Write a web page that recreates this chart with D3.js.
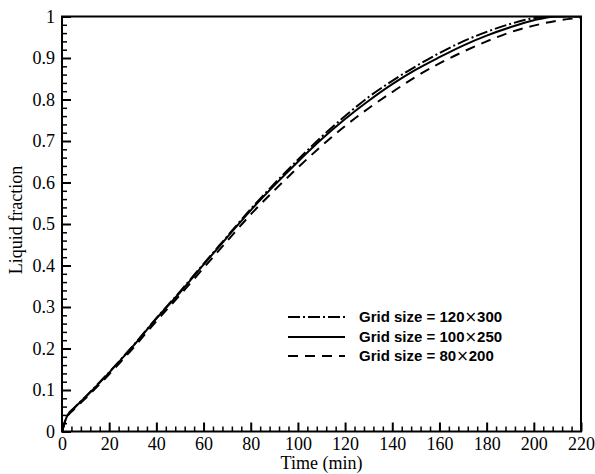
<!DOCTYPE html>
<html>
<head>
<meta charset="utf-8">
<script src="https://cdn.jsdelivr.net/npm/d3@7"></script>
<style>
  html, body { margin: 0; padding: 0; background: #fff; }
  svg { display: block; }
</style>
</head>
<body>
<svg id="chart" width="595" height="474"></svg>
<script>
// Melting time history of the liquid fraction for three mesh resolutions
const timeMin = [0, 2, 5, 10, 20, 30, 40, 50, 60, 70, 80, 90, 100, 110, 120, 130, 140, 150, 160, 170, 180, 190, 200, 210, 220];

const grid120x300 = [0, 0.036, 0.056, 0.084, 0.143, 0.206, 0.273, 0.337, 0.404, 0.470, 0.536, 0.597, 0.655, 0.710, 0.760, 0.806, 0.845, 0.880, 0.912, 0.940, 0.963, 0.982, 0.996, 1.0, 1.0];
const grid100x250 = [0, 0.035, 0.055, 0.083, 0.142, 0.205, 0.272, 0.335, 0.402, 0.468, 0.533, 0.593, 0.650, 0.704, 0.753, 0.797, 0.837, 0.872, 0.902, 0.930, 0.954, 0.974, 0.991, 1.0, 1.0];
const grid80x200  = [0, 0.033, 0.053, 0.080, 0.138, 0.200, 0.266, 0.329, 0.394, 0.459, 0.523, 0.581, 0.636, 0.688, 0.736, 0.779, 0.818, 0.855, 0.887, 0.915, 0.940, 0.962, 0.978, 0.990, 0.997];

// legend text split around the multiplication sign
const seriesNames = ["Grid size = 120", "Grid size = 100", "Grid size = 80"];
const seriesTails = ["300", "250", "200"];
const seriesDash = ["12,3,2,3", null, "10,7"];

const xTicks = [0, 20, 40, 60, 80, 100, 120, 140, 160, 180, 200, 220];
const yTicks = [0, 0.1, 0.2, 0.3, 0.4, 0.5, 0.6, 0.7, 0.8, 0.9, 1];
const yTickLabels = ["0", "0.1", "0.2", "0.3", "0.4", "0.5", "0.6", "0.7", "0.8", "0.9", "1"];

const svg = d3.select("#chart");
const plotLeft = 62, plotRight = 581, plotTop = 16.5, plotBottom = 431.5;

const x = d3.scaleLinear().domain([0, 220]).range([plotLeft, plotRight]);
const y = d3.scaleLinear().domain([0, 1]).range([plotBottom, plotTop]);

const serif = "'Liberation Serif', 'Times New Roman', serif";
const fontSize = 18;

// clip region for curves
svg.append("defs").append("clipPath").attr("id", "plotClip")
  .append("rect").attr("x", plotLeft).attr("y", plotTop)
  .attr("width", plotRight - plotLeft).attr("height", plotBottom - plotTop);

// curves
const allSeries = [grid120x300, grid100x250, grid80x200];
const line = d3.line()
  .x((d, i) => x(timeMin[i]))
  .y(d => y(d))
  .curve(d3.curveMonotoneX);

const curves = svg.append("g").attr("clip-path", "url(#plotClip)");
allSeries.forEach((vals, k) => {
  curves.append("path")
    .attr("d", line(vals))
    .attr("fill", "none")
    .attr("stroke", "#000")
    .attr("stroke-width", 2)
    .attr("stroke-dasharray", seriesDash[k]);
});

// frame
svg.append("rect")
  .attr("x", plotLeft).attr("y", plotTop)
  .attr("width", plotRight - plotLeft).attr("height", plotBottom - plotTop)
  .attr("fill", "none").attr("stroke", "#000").attr("stroke-width", 2);

// x axis ticks (inward), major every 20, minor every 4
const gx = svg.append("g").attr("transform", `translate(0,${plotBottom})`)
  .call(d3.axisBottom(x).tickValues(xTicks).tickSize(-9).tickFormat(d3.format("d")));
gx.select(".domain").remove();
gx.selectAll(".tick line").attr("stroke-width", 2);
gx.selectAll(".tick text")
  .attr("font-family", serif).attr("font-size", fontSize).attr("fill", "#000")
  .attr("dy", "0.71em").attr("y", 6);

const xMinor = d3.range(0, 221, 4).filter(v => v % 20 !== 0);
const gxm = svg.append("g").attr("transform", `translate(0,${plotBottom})`)
  .call(d3.axisBottom(x).tickValues(xMinor).tickSize(-5).tickFormat(""));
gxm.select(".domain").remove();
gxm.selectAll(".tick line").attr("stroke-width", 1.5);

// y axis ticks (inward), major every 0.1, minor every 0.02
const gy = svg.append("g").attr("transform", `translate(${plotLeft},0)`)
  .call(d3.axisLeft(y).tickValues(yTicks).tickSize(-9).tickFormat((d, i) => yTickLabels[i]));
gy.select(".domain").remove();
gy.selectAll(".tick line").attr("stroke-width", 2);
gy.selectAll(".tick text")
  .attr("font-family", serif).attr("font-size", fontSize).attr("fill", "#000")
  .attr("x", -7).attr("dy", "0.33em");

const yMinor = d3.range(0, 51).map(i => i / 50).filter((v, i) => i % 5 !== 0);
const gym = svg.append("g").attr("transform", `translate(${plotLeft},0)`)
  .call(d3.axisLeft(y).tickValues(yMinor).tickSize(-5).tickFormat(""));
gym.select(".domain").remove();
gym.selectAll(".tick line").attr("stroke-width", 1.5);

// axis titles
svg.append("text")
  .attr("x", (plotLeft + plotRight) / 2).attr("y", 469)
  .attr("text-anchor", "middle")
  .attr("font-family", serif).attr("font-size", fontSize).attr("fill", "#000")
  .text("Time (min)");

svg.append("text")
  .attr("transform", `translate(22,220) rotate(-90)`)
  .attr("text-anchor", "middle")
  .attr("font-family", serif).attr("font-size", fontSize).attr("fill", "#000")
  .text("Liquid fraction");

// legend
const legend = svg.append("g");
const legendRows = [317, 337, 356];
seriesNames.forEach((name, k) => {
  legend.append("line")
    .attr("x1", 288).attr("x2", 345)
    .attr("y1", legendRows[k]).attr("y2", legendRows[k])
    .attr("stroke", "#000").attr("stroke-width", 2)
    .attr("stroke-dasharray", seriesDash[k]);
  const t = legend.append("text")
    .attr("x", 359).attr("y", legendRows[k]).attr("dy", "0.36em")
    .attr("font-family", "'Liberation Sans', Arial, sans-serif")
    .attr("font-weight", "bold").attr("font-size", 15).attr("fill", "#000");
  t.append("tspan").text(name);
  t.append("tspan")
    .attr("font-family", "'DejaVu Sans', sans-serif")
    .attr("font-weight", "normal")
    .text("\u00D7");
  t.append("tspan").text(seriesTails[k]);
});
</script>
</body>
</html>
